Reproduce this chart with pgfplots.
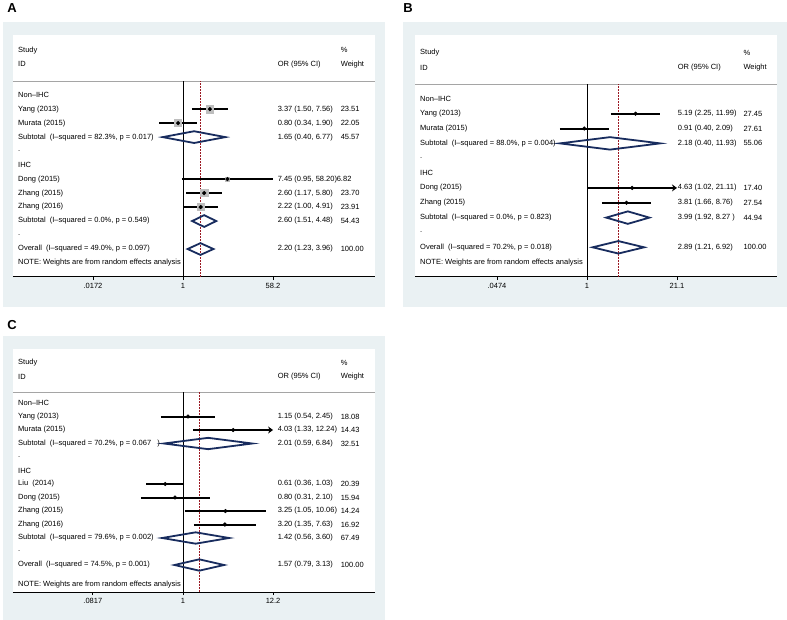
\documentclass[border=0pt]{standalone}
\usepackage{fontspec}
\setmainfont{Liberation Sans}
\usepackage{pgfplots}
\pgfplotsset{compat=1.18}
\usetikzlibrary{arrows.meta}

\definecolor{bg}{RGB}{234,241,243}
\definecolor{navy}{RGB}{24,44,94}
\definecolor{dred}{RGB}{155,25,35}
\definecolor{boxgray}{RGB}{190,190,190}
\definecolor{sepgray}{RGB}{165,165,165}

\newcommand{\fs}{\fontsize{7.5}{9}\selectfont}
% text at relative x, row y
\newcommand{\txt}[3]{\node[anchor=west,inner sep=0pt,font=\fs] at ({rel axis cs:#1,0}|-{axis cs:1,#2}) {#3};}
\newcommand{\sep}[1]{\draw[sepgray,line width=0.8pt] ({rel axis cs:0,0}|-{axis cs:1,#1}) -- ({rel axis cs:1,0}|-{axis cs:1,#1});}
\newcommand{\ci}[3]{\addplot[black,line width=2pt] coordinates {(#1,#3) (#2,#3)};}
\newcommand{\ciarrow}[3]{\addplot[black,line width=2pt,-{Stealth[length=5pt,width=7pt]}] coordinates {(#1,#3) (#2,#3)};}
\newcommand{\est}[2]{\addplot[only marks,mark=*,mark size=1.9pt,black] coordinates {(#1,#2)};}
\newcommand{\wbox}[3]{\addplot[only marks,mark=square*,mark size=#3,boxgray] coordinates {(#1,#2)};}
% diamond: est, lo, hi, y, top, bottom
\newcommand{\dia}[6]{\addplot[navy,line width=1.8pt] coordinates {(#2,#4) (#1,#5) (#3,#4) (#1,#6)} -- cycle;}
\newcommand{\refline}[4]{\addplot[#4] coordinates {(#1,#2) (#1,#3)};}

\pgfplotsset{every axis/.append style={
  anchor=south west, scale only axis, width=362pt, ymin=-1,
  axis x line*=bottom, axis y line=none,
  axis background/.style={fill=white},
  tick align=outside, major tick length=3pt,
  x axis line style={line width=1pt},
  xtick style={black,line width=0.8pt},
  tick label style={font=\fs},
  clip=false
}}

\begin{document}
\begin{tikzpicture}
\useasboundingbox (0,0) rectangle (787pt,-620pt);
\fill[bg] (3pt,-22pt) rectangle (385pt,-307pt);
\fill[bg] (403pt,-22pt) rectangle (787pt,-307pt);
\fill[bg] (3pt,-336pt) rectangle (385pt,-620pt);
\node[font=\fontsize{13}{15}\selectfont\bfseries] at (12pt,-8pt) {A};
\node[font=\fontsize{13}{15}\selectfont\bfseries] at (408pt,-8pt) {B};
\node[font=\fontsize{13}{15}\selectfont\bfseries] at (12pt,-325pt) {C};

% ---------------- A ----------------
\begin{axis}[xmode=log, at={(13pt,-277pt)}, height=242pt,
  xmin=4.64e-4, xmax=5816, ymax=16.3, minor xtick={},
  xtick={0.0172,1,58.2}, xticklabels={.0172,1,58.2}]
\sep{13}
\wbox{3.37}{11}{3.6pt}
\wbox{0.80}{10}{3.5pt}
\wbox{7.45}{6}{1.9pt}
\wbox{2.60}{5}{3.6pt}
\wbox{2.22}{4}{3.6pt}
\refline{1}{-1}{13}{black,line width=0.9pt}
\refline{2.20}{-1}{13}{dred,line width=1pt,dash pattern=on 1.8pt off 1.2pt}
\ci{1.50}{7.56}{11}  \est{3.37}{11}
\ci{0.34}{1.90}{10}  \est{0.80}{10}
\ci{0.95}{58.2}{6}   \est{7.45}{6}
\ci{1.17}{5.80}{5}   \est{2.60}{5}
\ci{1.00}{4.91}{4}   \est{2.22}{4}
\dia{1.65}{0.40}{6.77}{9}{9.42}{8.58}
\dia{2.60}{1.51}{4.48}{3}{3.42}{2.58}
\dia{2.20}{1.23}{3.96}{1}{1.42}{0.58}
\txt{0.0138}{15.2}{Study}
\txt{0.0138}{14.2}{ID}
\txt{0.731}{14.2}{OR (95\% CI)}
\txt{0.905}{15.2}{\%}
\txt{0.905}{14.2}{Weight}
\txt{0.0138}{12}{Non--IHC}
\txt{0.0138}{11}{Yang (2013)}   \txt{0.731}{11}{3.37 (1.50, 7.56)}  \txt{0.905}{11}{23.51}
\txt{0.0138}{10}{Murata (2015)} \txt{0.731}{10}{0.80 (0.34, 1.90)}  \txt{0.905}{10}{22.05}
\txt{0.0138}{9}{Subtotal\ \ (I--squared = 82.3\%, p = 0.017)} \txt{0.731}{9}{1.65 (0.40, 6.77)} \txt{0.905}{9}{45.57}
\txt{0.0138}{8}{.}
\txt{0.0138}{7}{IHC}
\txt{0.0138}{6}{Dong (2015)}   \txt{0.731}{6}{7.45 (0.95, 58.20)} \txt{0.894}{6}{6.82}
\txt{0.0138}{5}{Zhang (2015)}  \txt{0.731}{5}{2.60 (1.17, 5.80)}  \txt{0.905}{5}{23.70}
\txt{0.0138}{4}{Zhang (2016)}  \txt{0.731}{4}{2.22 (1.00, 4.91)}  \txt{0.905}{4}{23.91}
\txt{0.0138}{3}{Subtotal\ \ (I--squared = 0.0\%, p = 0.549)} \txt{0.731}{3}{2.60 (1.51, 4.48)} \txt{0.905}{3}{54.43}
\txt{0.0138}{2}{.}
\txt{0.0138}{1}{Overall\ \ (I--squared = 49.0\%, p = 0.097)} \txt{0.731}{1}{2.20 (1.23, 3.96)} \txt{0.905}{1}{100.00}
\txt{0.0138}{0}{NOTE: Weights are from random effects analysis}
\end{axis}

% ---------------- B ----------------
\begin{axis}[xmode=log, at={(415pt,-277pt)}, height=242pt,
  xmin=2.94e-3, xmax=626, ymax=15.3, minor xtick={},
  xtick={0.0474,1,21.1}, xticklabels={.0474,1,21.1}]
\sep{12}
\refline{1}{-1}{12}{black,line width=0.9pt}
\refline{2.89}{-1}{12}{dred,line width=1pt,dash pattern=on 1.8pt off 1.2pt}
\ci{2.25}{11.99}{10}  \est{5.19}{10}
\ci{0.40}{2.09}{9}    \est{0.91}{9}
\ciarrow{1.02}{21.1}{5} \est{4.63}{5}
\ci{1.66}{8.76}{4}    \est{3.81}{4}
\dia{2.18}{0.40}{11.93}{8}{8.42}{7.58}
\dia{3.99}{1.92}{8.27}{3}{3.42}{2.58}
\dia{2.89}{1.21}{6.92}{1}{1.42}{0.58}
\txt{0.0138}{14.1}{Study}
\txt{0.0138}{13.1}{ID}
\txt{0.7256}{13.1}{OR (95\% CI)}
\txt{0.907}{14.1}{\%}
\txt{0.907}{13.1}{Weight}
\txt{0.0138}{11}{Non--IHC}
\txt{0.0138}{10}{Yang (2013)}   \txt{0.7256}{10}{5.19 (2.25, 11.99)} \txt{0.907}{10}{27.45}
\txt{0.0138}{9}{Murata (2015)}  \txt{0.7256}{9}{0.91 (0.40, 2.09)}   \txt{0.907}{9}{27.61}
\txt{0.0138}{8}{Subtotal\ \ (I--squared = 88.0\%, p = 0.004)} \txt{0.7256}{8}{2.18 (0.40, 11.93)} \txt{0.907}{8}{55.06}
\txt{0.0138}{7}{.}
\txt{0.0138}{6}{IHC}
\txt{0.0138}{5}{Dong (2015)}    \txt{0.7256}{5}{4.63 (1.02, 21.11)} \txt{0.907}{5}{17.40}
\txt{0.0138}{4}{Zhang (2015)}   \txt{0.7256}{4}{3.81 (1.66, 8.76)}  \txt{0.907}{4}{27.54}
\txt{0.0138}{3}{Subtotal\ \ (I--squared = 0.0\%, p = 0.823)} \txt{0.7256}{3}{3.99 (1.92, 8.27 )} \txt{0.907}{3}{44.94}
\txt{0.0138}{2}{.}
\txt{0.0138}{1}{Overall\ \ (I--squared = 70.2\%, p = 0.018)} \txt{0.7256}{1}{2.89 (1.21, 6.92)} \txt{0.907}{1}{100.00}
\txt{0.0138}{0}{NOTE: Weights are from random effects analysis}
\end{axis}

% ---------------- C ----------------
\begin{axis}[xmode=log, at={(13pt,-592pt)}, height=243pt,
  xmin=8.9e-3, xmax=207, ymax=17.0, minor xtick={},
  xtick={0.0817,1,12.2}, xticklabels={.0817,1,12.2}]
\sep{13.8}
\refline{1}{-1}{13.8}{black,line width=0.9pt}
\refline{1.57}{-1}{13.8}{dred,line width=1pt,dash pattern=on 1.8pt off 1.2pt}
\ci{0.54}{2.45}{12}   \est{1.15}{12}
\ciarrow{1.33}{12.2}{11} \est{4.03}{11}
\ci{0.36}{1.03}{7}    \est{0.61}{7}
\ci{0.31}{2.10}{6}    \est{0.80}{6}
\ci{1.05}{10.06}{5}   \est{3.25}{5}
\ci{1.35}{7.63}{4}    \est{3.20}{4}
\dia{2.01}{0.59}{6.84}{10}{10.42}{9.58}
\dia{1.42}{0.56}{3.60}{3}{3.42}{2.58}
\dia{1.57}{0.79}{3.13}{1}{1.42}{0.58}
\txt{0.0138}{16.0}{Study}
\txt{0.0138}{14.95}{ID}
\txt{0.731}{14.95}{OR (95\% CI)}
\txt{0.905}{16.0}{\%}
\txt{0.905}{14.95}{Weight}
\txt{0.0138}{13}{Non--IHC}
\txt{0.0138}{12}{Yang (2013)}   \txt{0.731}{12}{1.15 (0.54, 2.45)}   \txt{0.905}{12}{18.08}
\txt{0.0138}{11}{Murata (2015)} \txt{0.731}{11}{4.03 (1.33, 12.24)}  \txt{0.905}{11}{14.43}
\txt{0.0138}{10}{Subtotal\ \ (I--squared = 70.2\%, p = 0.067\ \ \ )} \txt{0.731}{10}{2.01 (0.59, 6.84)} \txt{0.905}{10}{32.51}
\txt{0.0138}{9}{.}
\txt{0.0138}{8}{IHC}
\txt{0.0138}{7}{Liu\ \ (2014)}  \txt{0.731}{7}{0.61 (0.36, 1.03)}   \txt{0.905}{7}{20.39}
\txt{0.0138}{6}{Dong (2015)}   \txt{0.731}{6}{0.80 (0.31, 2.10)}   \txt{0.905}{6}{15.94}
\txt{0.0138}{5}{Zhang (2015)}  \txt{0.731}{5}{3.25 (1.05, 10.06)}  \txt{0.905}{5}{14.24}
\txt{0.0138}{4}{Zhang (2016)}  \txt{0.731}{4}{3.20 (1.35, 7.63)}   \txt{0.905}{4}{16.92}
\txt{0.0138}{3}{Subtotal\ \ (I--squared = 79.6\%, p = 0.002)} \txt{0.731}{3}{1.42 (0.56, 3.60)} \txt{0.905}{3}{67.49}
\txt{0.0138}{2}{.}
\txt{0.0138}{1}{Overall\ \ (I--squared = 74.5\%, p = 0.001)} \txt{0.731}{1}{1.57 (0.79, 3.13)} \txt{0.905}{1}{100.00}
\txt{0.0138}{-0.45}{NOTE: Weights are from random effects analysis}
\end{axis}
\end{tikzpicture}
\end{document}
